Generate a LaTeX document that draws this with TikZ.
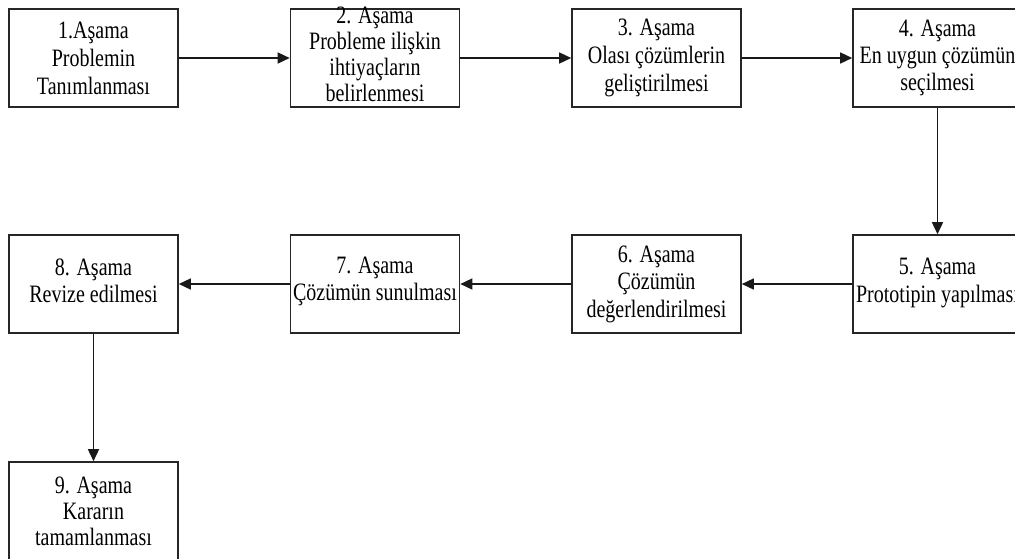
\documentclass[tikz,border=0pt]{standalone}
\usepackage{fontspec}
\setmainfont[FakeStretch=0.8]{Liberation Serif}
\usetikzlibrary{arrows.meta}
\begin{document}
\begin{tikzpicture}[x=1pt,y=1pt,
  stepbox/.style={draw=black!85,line width=1.6pt,minimum width=169pt,minimum height=98pt,inner sep=0pt},
  steptext/.style={align=center,inner sep=0pt,font=\fontsize{25}{28}\selectfont},
  flow/.style={draw=black!90,line width=1.5pt,-{Triangle[length=12pt,width=11pt]}}]
\useasboundingbox (0,0) rectangle (1015,-558);
% first row
\node[stepbox] (s1) at (93.5,-58) {};
\node[stepbox] (s2) at (375,-58) {};
\node[stepbox] (s3) at (656.5,-58) {};
\node[stepbox] (s4) at (937.5,-58) {};
% second row
\node[stepbox] (s8) at (93.5,-284) {};
\node[stepbox] (s7) at (375,-284) {};
\node[stepbox] (s6) at (656.5,-284) {};
\node[stepbox] (s5) at (937.5,-284) {};
% last step
\node[stepbox] (s9) at (93.5,-511) {};
% texts
\node[steptext] (t1) at (s1) {1.Aşama\\Problemin\\Tanımlanması};
\node[steptext,font=\fontsize{25}{26}\selectfont] (t2) at ([yshift=4pt]s2) {2. Aşama\\Probleme ilişkin\\ihtiyaçların\\belirlenmesi};
\node[steptext] (t3) at (s3) {3. Aşama\\Olası çözümlerin\\geliştirilmesi};
\node[steptext,font=\fontsize{25}{27}\selectfont] (t4) at (s4) {4. Aşama\\En uygun çözümün\\seçilmesi};
\node[steptext] (t5) at ([yshift=1pt]s5) {5. Aşama\\Prototipin yapılması};
\node[steptext,font=\fontsize{25}{27.5}\selectfont] (t6) at (s6) {6. Aşama\\Çözümün\\değerlendirilmesi};
\node[steptext,font=\fontsize{25}{27}\selectfont] (t7) at ([yshift=3pt]s7) {7. Aşama\\Çözümün sunulması};
\node[steptext,font=\fontsize{25}{27}\selectfont] (t8) at ([yshift=3pt]s8) {8. Aşama\\Revize edilmesi};
\node[steptext,font=\fontsize{25}{26}\selectfont] (t9) at (s9) {9. Aşama\\Kararın\\tamamlanması};
% connectors
\draw[flow] (s1) -- (s2);
\draw[flow] (s2) -- (s3);
\draw[flow] (s3) -- (s4);
\draw[flow] (s4) -- (s5);
\draw[flow] (s5) -- (s6);
\draw[flow] (s6) -- (s7);
\draw[flow] (s7) -- (s8);
\draw[flow] (s8) -- (s9);
\end{tikzpicture}
\end{document}
